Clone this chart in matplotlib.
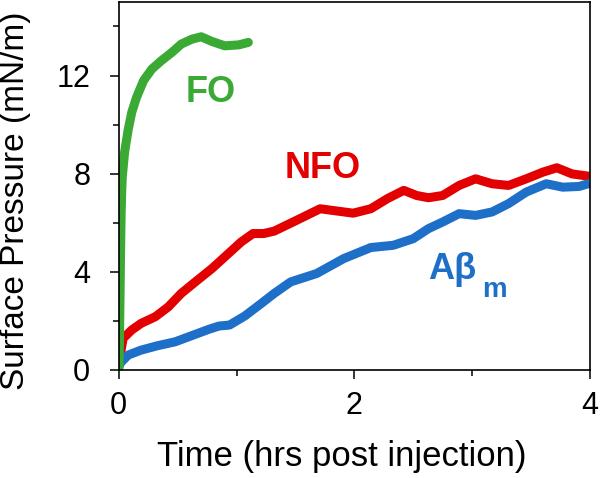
import matplotlib
matplotlib.use("Agg")
import matplotlib.pyplot as plt
from matplotlib.ticker import MultipleLocator

plt.rcParams['font.family'] = ['Liberation Sans', 'DejaVu Sans']

# FO series
fo_t = [0.0, 0.005, 0.01, 0.015, 0.02, 0.025, 0.03, 0.05, 0.08, 0.11, 0.15, 0.21, 0.28,
        0.36, 0.45, 0.53, 0.62, 0.70, 0.79, 0.90, 1.02, 1.10]
fo_p = [0.0, 1.0, 2.8, 4.8, 6.4, 7.3, 7.9, 8.9, 9.8, 10.5, 11.1, 11.79, 12.26,
        12.6, 12.94, 13.28, 13.48, 13.58, 13.39, 13.21, 13.25, 13.35]

# NFO series
nfo_t = [0.0, 0.01, 0.037, 0.11, 0.19, 0.31, 0.42, 0.53, 0.65, 0.79, 0.93, 1.04, 1.14,
         1.23, 1.32, 1.48, 1.71, 1.99, 2.14, 2.28, 2.42, 2.53, 2.63, 2.75, 2.89, 3.03,
         3.17, 3.31, 3.46, 3.6, 3.72, 3.85, 4.0]
nfo_p = [0.3, 0.54, 1.29, 1.63, 1.9, 2.17, 2.57, 3.12, 3.59, 4.13, 4.74, 5.22, 5.56,
         5.56, 5.66, 6.03, 6.57, 6.39, 6.57, 6.98, 7.32, 7.11, 7.02, 7.11, 7.52, 7.79,
         7.59, 7.52, 7.79, 8.06, 8.24, 7.99, 7.89]

# Abeta_m series
ab_t = [0.0, 0.01, 0.08, 0.19, 0.33, 0.48, 0.62, 0.76, 0.85, 0.94, 1.07, 1.21, 1.32,
        1.46, 1.68, 1.91, 2.14, 2.33, 2.5, 2.63, 2.75, 2.89, 3.03, 3.17, 3.31, 3.46,
        3.63, 3.77, 3.91, 4.0]
ab_p = [0.1, 0.27, 0.61, 0.81, 0.99, 1.15, 1.4, 1.65, 1.79, 1.83, 2.2, 2.71, 3.12,
        3.59, 3.93, 4.54, 4.99, 5.08, 5.35, 5.76, 6.03, 6.37, 6.3, 6.44, 6.78, 7.25,
        7.59, 7.45, 7.48, 7.61]

green = '#3aaa35'
red = '#e30000'
blue = '#1e6fc8'

fig = plt.figure(figsize=(6.0, 4.78), dpi=100)
ax = fig.add_axes([0.198, 0.226, 0.785, 0.770])

lw = 6.5
ax.plot(nfo_t, nfo_p, color=red, lw=lw, solid_capstyle='butt', solid_joinstyle='round')
ax.plot(ab_t, ab_p, color=blue, lw=lw, solid_capstyle='butt', solid_joinstyle='round')
ax.plot(fo_t, fo_p, color=green, lw=lw, solid_capstyle='round', solid_joinstyle='round')

ax.set_xlim(0, 4)
ax.set_ylim(0, 15)
ax.xaxis.set_major_locator(MultipleLocator(2))
ax.xaxis.set_minor_locator(MultipleLocator(1))
ax.yaxis.set_major_locator(MultipleLocator(4))
ax.yaxis.set_minor_locator(MultipleLocator(2))
ax.tick_params(which='both', direction='out', top=False, right=False, width=1.1,
               color='black', labelsize=22)
ax.tick_params(axis='x', which='both', pad=9)
ax.tick_params(axis='y', which='both', pad=14)
ax.tick_params(which='major', length=6.5)
ax.tick_params(which='minor', length=4)
for s in ax.spines.values():
    s.set_linewidth(1.2)

ax.set_xlabel('Time (hrs post injection)', fontsize=25)
ax.set_ylabel('Surface Pressure (mN/m)', fontsize=24)
ax.xaxis.set_label_coords(0.473, -0.19)
ax.yaxis.set_label_coords(-0.187, 0.46)

ax.text(0.78, 11.3, 'FO', color=green, fontsize=26, fontweight='bold',
        ha='center', va='center')
ax.text(1.73, 8.2, 'NFO', color=red, fontsize=26, fontweight='bold',
        ha='center', va='center')
ax.text(2.83, 4.1, 'Aβ', color=blue, fontsize=26, fontweight='bold',
        ha='center', va='center')
ax.text(3.19, 3.25, 'm', color=blue, fontsize=20, fontweight='bold',
        ha='center', va='center')

fig.savefig('out.png', dpi=100)
